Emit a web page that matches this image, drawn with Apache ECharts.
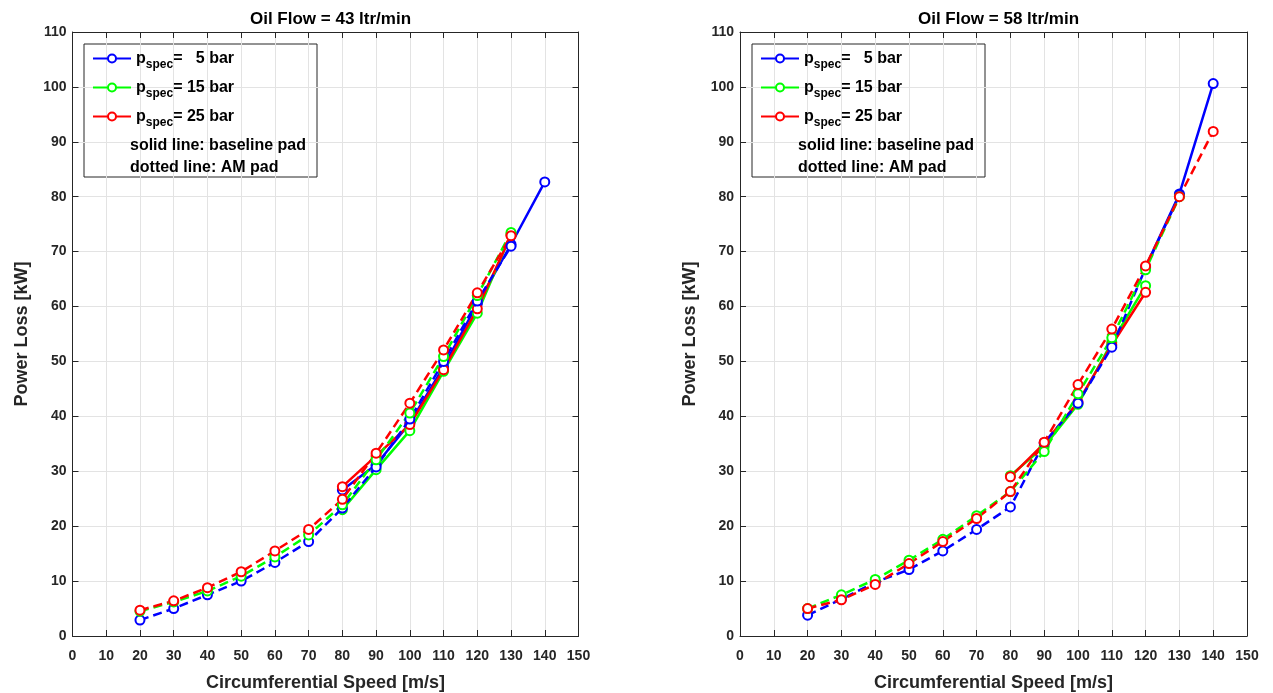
<!DOCTYPE html>
<html><head><meta charset="utf-8">
<script src="https://cdn.jsdelivr.net/npm/echarts@6/dist/echarts.min.js"></script>
<style>html,body{margin:0;padding:0;background:#fff}#c{width:1273px;height:693px}</style>
</head><body><div id="c"></div>
<script>
const speed = [20,30,40,50,60,70,80,90,100,110,120,130,140];
const xTicks = [0,10,20,30,40,50,60,70,80,90,100,110,120,130,140,150];
const yTicks = [0,10,20,30,40,50,60,70,80,90,100,110];
const titles = ['Oil Flow = 43 ltr/min','Oil Flow = 58 ltr/min'];
// Oil flow 43 ltr/min
const blueBase43  = [null,null,null,null,null,null,26.6,31.2,38.8,49.0,60.5,71.3,82.7];
const greenBase43 = [null,null,null,null,null,null,23.0,30.3,37.4,48.2,58.8,73.2,null];
const redBase43   = [null,null,null,null,null,null,27.2,32.8,38.5,48.5,59.6,73.0,null];
const blueAM43  = [2.9,5.0,7.5,10.0,13.4,17.2,23.3,30.8,39.5,50.0,61.0,71.0,null];
const greenAM43 = [4.5,6.2,8.2,10.9,14.4,18.4,23.9,32.1,40.6,50.9,62.0,73.5,null];
const redAM43   = [4.7,6.4,8.8,11.7,15.5,19.4,24.9,33.3,42.4,52.1,62.5,72.9,null];
// Oil flow 58 ltr/min
const blueBase58  = [null,null,null,null,null,null,null,null,null,null,67.2,80.5,100.6];
const greenBase58 = [null,null,null,null,null,null,29.2,34.5,42.2,53.5,63.8,null,null];
const redBase58   = [null,null,null,null,null,null,29.0,35.1,42.6,53.0,62.6,null,null];
const blueAM58  = [3.8,6.7,9.8,12.1,15.5,19.4,23.5,35.2,42.4,52.6,67.0,80.3,null];
const greenAM58 = [5.0,7.5,10.3,13.8,17.6,21.9,26.3,33.6,44.1,54.3,66.7,80.0,null];
const redAM58   = [5.0,6.6,9.4,13.2,17.2,21.4,26.3,35.3,45.8,55.9,67.4,80.0,91.9];
const legendNames = ['p5','p15','p25'];
const legendLabels = {p5:'=   5 bar', p15:'= 15 bar', p25:'= 25 bar'};
const noteLines = ['solid line: baseline pad','dotted line: AM pad'];

const FONT = '"Liberation Sans", Arial, sans-serif';
const AX = '#262626';
const grids = [
  {left:72.5, top:32, width:506, height:604, outerBoundsMode:'none', containLabel:false},
  {left:740, top:32, width:507, height:604, outerBoundsMode:'none', containLabel:false}
];
function pairs(arr){ const out=[]; arr.forEach((v,i)=>{ if(v!==null) out.push([speed[i],v]); }); return out; }

const xAxis=[], yAxis=[];
grids.forEach((g,gi)=>{
  xAxis.push({type:'value', gridIndex:gi, min:0, max:150, interval:10,
    name:'Circumferential Speed [m/s]', nameLocation:'middle', nameGap:38,
    nameTextStyle:{fontFamily:FONT,fontWeight:'bold',fontSize:18,color:AX},
    axisLine:{show:true,onZero:false,lineStyle:{color:AX,width:1}},
    axisTick:{show:true,inside:true,length:6,lineStyle:{color:AX}},
    axisLabel:{fontFamily:FONT,fontWeight:'bold',fontSize:14,color:AX,margin:13},
    splitLine:{show:true,lineStyle:{color:'#e3e3e3',width:1}}});
  xAxis.push({type:'value', gridIndex:gi, position:'top', min:0, max:150, interval:10,
    axisLine:{show:true,onZero:false,lineStyle:{color:AX,width:1}},
    axisTick:{show:true,inside:true,length:6,lineStyle:{color:AX}},
    axisLabel:{show:false}, splitLine:{show:false}});
  yAxis.push({type:'value', gridIndex:gi, min:0, max:110, interval:10,
    name:'Power Loss [kW]', nameLocation:'middle', nameGap:41,
    nameTextStyle:{fontFamily:FONT,fontWeight:'bold',fontSize:18,color:AX},
    axisLine:{show:true,onZero:false,lineStyle:{color:AX,width:1}},
    axisTick:{show:true,inside:true,length:6,lineStyle:{color:AX}},
    axisLabel:{fontFamily:FONT,fontWeight:'bold',fontSize:14,color:AX,margin:6},
    splitLine:{show:true,lineStyle:{color:'#e3e3e3',width:1}}});
  yAxis.push({type:'value', gridIndex:gi, position:'right', min:0, max:110, interval:10,
    axisLine:{show:true,onZero:false,lineStyle:{color:AX,width:1}},
    axisTick:{show:true,inside:true,length:6,lineStyle:{color:AX}},
    axisLabel:{show:false}, splitLine:{show:false}});
});

function mk(name, data, color, dashed, gi){
  return {type:'line', name:name, xAxisIndex:gi*2, yAxisIndex:gi*2, data:pairs(data),
    symbol:'emptyCircle', symbolSize:9, showSymbol:true,
    itemStyle:{color:color, borderWidth:2},
    lineStyle:{color:color, width:2.5, type: dashed ? [9,5] : 'solid'},
    emphasis:{disabled:true}, animation:false, z: dashed?3:2};
}
const series = [
  mk('p5', blueBase43, '#0000ff', false, 0),
  mk('p15', greenBase43, '#00ff00', false, 0),
  mk('p25', redBase43, '#ff0000', false, 0),
  mk('p5 AM', blueAM43, '#0000ff', true, 0),
  mk('p15 AM', greenAM43, '#00ff00', true, 0),
  mk('p25 AM', redAM43, '#ff0000', true, 0),
  mk('p5', blueBase58, '#0000ff', false, 1),
  mk('p15', greenBase58, '#00ff00', false, 1),
  mk('p25', redBase58, '#ff0000', false, 1),
  mk('p5 AM', blueAM58, '#0000ff', true, 1),
  mk('p15 AM', greenAM58, '#00ff00', true, 1),
  mk('p25 AM', redAM58, '#ff0000', true, 1)
];

const legBox = [{x:83.5,y:43.5},{x:751.5,y:43.5}];
const legend = legBox.map(b=>({
  data:legendNames, orient:'vertical', left:b.x+3.5, top:b.y-2, itemWidth:38, itemHeight:10, itemGap:5,
  selectedMode:false,
  formatter: n => '{p|p}{s|spec}{t|' + legendLabels[n] + '}',
  textStyle:{fontFamily:FONT,fontWeight:'bold',fontSize:16,color:'#000',
    rich:{p:{fontFamily:FONT,fontWeight:'bold',fontSize:16,lineHeight:20},
          s:{fontFamily:FONT,fontWeight:'bold',fontSize:12,lineHeight:20,padding:[12,0,0,0]},
          t:{fontFamily:FONT,fontWeight:'bold',fontSize:16,lineHeight:20}}}
}));

const graphic = [];
legBox.forEach(b=>{
  graphic.push({type:'rect', left:b.x, top:b.y, z:-1, shape:{width:233, height:133},
    style:{fill:'#fff', stroke:'#262626', lineWidth:1}, silent:true});
  noteLines.forEach((t,i)=>{
    graphic.push({type:'text', left:b.x+46.5, top:b.y+94+i*22, z:10,
      style:{text:t, font:'bold 16px '+FONT, fill:'#000'}});
  });
});

const title = grids.map((g,i)=>({text:titles[i], left:g.left+g.width/2, top:6, textAlign:'center',
  textStyle:{fontFamily:FONT,fontWeight:'bold',fontSize:17,color:'#000'}}));

const chart = echarts.init(document.getElementById('c'), null, {renderer:'canvas'});
chart.setOption({backgroundColor:'#fff', animation:false, title, grid:grids, xAxis, yAxis, series, legend, graphic});
</script></body></html>
